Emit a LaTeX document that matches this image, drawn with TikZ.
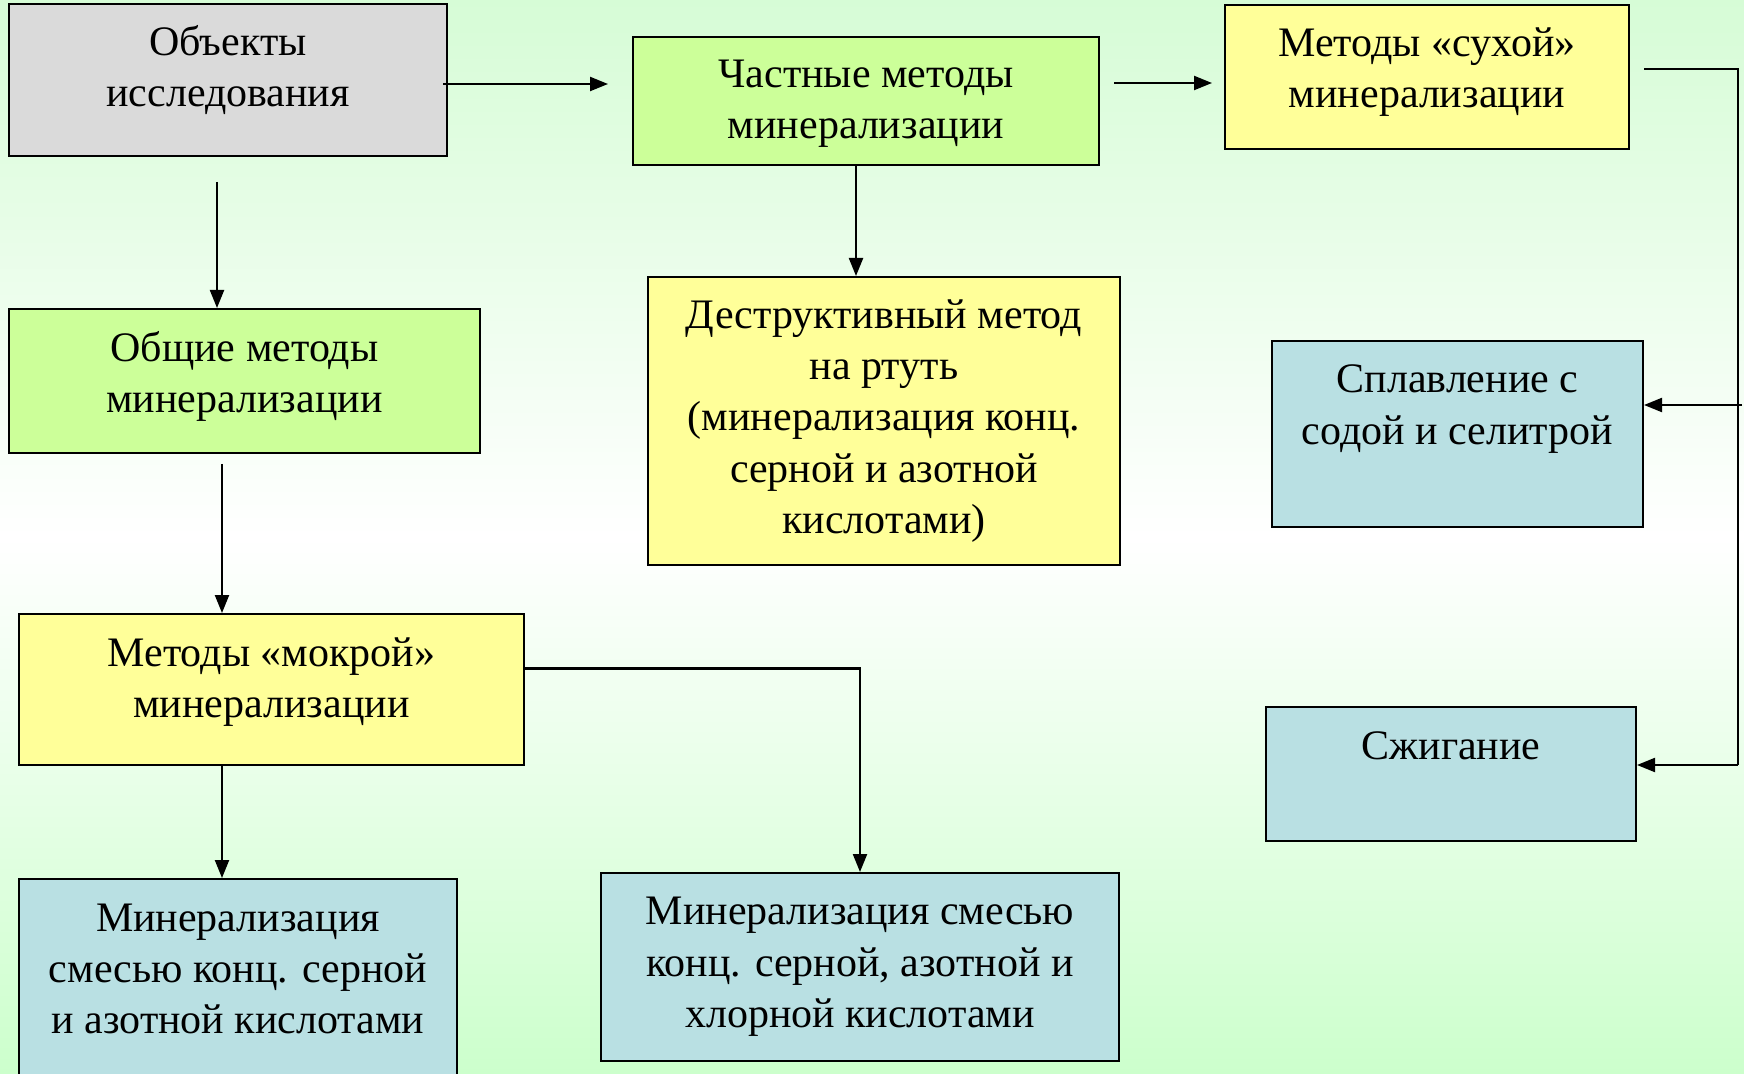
\documentclass[tikz,border=0pt]{standalone}
\usepackage{fontspec}
\setmainfont{Liberation Serif}
\usetikzlibrary{arrows.meta,fit,calc}
\definecolor{bggreen}{HTML}{D6FCD6}
\definecolor{bgbot}{HTML}{CCFFCC}
\definecolor{boxgray}{HTML}{DADADA}
\definecolor{boxgreen}{HTML}{CCFF99}
\definecolor{boxyellow}{HTML}{FFFF99}
\definecolor{boxblue}{HTML}{B9E0E3}
\tikzset{
  box/.style={draw=black, line width=1pt, inner sep=0pt},
  txt/.style={font=\fontsize{21}{25.7}\selectfont, align=center, inner sep=0pt},
  conn/.style={line width=1.1pt, draw=black},
  arr/.style={conn, -{Triangle[length=9pt,width=7pt]}},
}
\begin{document}
\begin{tikzpicture}[x=0.5pt,y=-0.5pt]
\useasboundingbox (0,0) rectangle (1744,1074);
\clip (0,0) rectangle (1744,1074);
\shade[top color=bggreen, bottom color=bgbot, middle color=white] (0,0) rectangle (1744,1074);

% boxes
\node[box, fill=boxgray, fit={(9,4) (447,156)}] (obj) {};
\node[box, fill=boxgreen, fit={(633,37) (1099,165)}] (chast) {};
\node[box, fill=boxyellow, fit={(1225,5) (1629,149)}] (suh) {};
\node[box, fill=boxgreen, fit={(9,309) (480,453)}] (obsh) {};
\node[box, fill=boxyellow, fit={(648,277) (1120,565)}] (destr) {};
\node[box, fill=boxblue, fit={(1272,341) (1643,527)}] (splav) {};
\node[box, fill=boxblue, fit={(1266,707) (1636,841)}] (szhig) {};
\node[box, fill=boxyellow, fit={(19,614) (524,765)}] (mokr) {};
\node[box, fill=boxblue, fit={(19,879) (457,1090)}] (minA) {};
\node[box, fill=boxblue, fit={(601,873) (1119,1061)}] (minB) {};

% texts
\node[txt] (tobj) at (228,70) {Объекты\\исследования};
\node[txt] (tchast) at (866,104) {Частные методы\\минерализации};
\node[txt] (tsuh) at (1427,72) {Методы «сухой»\\минерализации};
\node[txt] (tobsh) at (244.5,376.5) {Общие методы\\минерализации};
\node[txt] (tdestr) at (884,421) {Деструктивный метод\\на ртуть\\(минерализация конц.\\серной и азотной\\кислотами)};
\node[txt] (tsplav) at (1457.5,409) {Сплавление с\\содой и селитрой};
\node[txt] (tszhig) at (1451,746) {Сжигание};
\node[txt] (tmokr) at (271.5,682) {Методы «мокрой»\\минерализации};
\node[txt] (tminA) at (238,969) {Минерализация\\смесью конц. серной\\и азотной кислотами};
\node[txt] (tminB) at (860,967) {Минерализация смесью\\конц. серной, азотной и\\хлорной кислотами};

% connectors
\coordinate (a1) at ([xshift=-2.5pt,yshift=-2pt]obj.east);
\draw[arr, shorten >=12pt] (a1) -- (a1 -| chast.west);

\coordinate (a2) at ([xshift=7pt,yshift=-3pt]suh.west -| chast.east);
\draw[arr, shorten >=6pt] (a2) -- (a2 -| suh.west);

\coordinate (a3) at ([xshift=-5.5pt,yshift=-12.5pt]obj.south);
\draw[arr] (a3) -- (a3 |- obsh.north);

\coordinate (a4) at ([xshift=-5pt]chast.south);
\draw[arr] (a4) -- (a4 |- destr.north);

\coordinate (a5) at ([xshift=-11.25pt,yshift=-5pt]obsh.south);
\draw[arr] (a5) -- (a5 |- mokr.north);

\coordinate (a6) at ([xshift=-24.75pt]mokr.south);
\draw[arr] (a6) -- (a6 |- minA.north);

\coordinate (a7) at ([yshift=10.5pt]mokr.east);
\draw[arr] (a7) -| (minB.north);

\coordinate (bs) at ([xshift=7pt,yshift=4pt]suh.east);
\coordinate (bustop) at (1738,69);
\coordinate (busbot) at (1738,765);
\draw[conn] (bs) -- (bustop) -- (busbot);
\coordinate (sp) at ([yshift=14.5pt]splav.east);
\draw[arr] (sp -| 1742,0) -- (sp);
\coordinate (sz) at ([yshift=4.5pt]szhig.east);
\draw[arr] (sz -| busbot) -- (sz);
\end{tikzpicture}
\end{document}
